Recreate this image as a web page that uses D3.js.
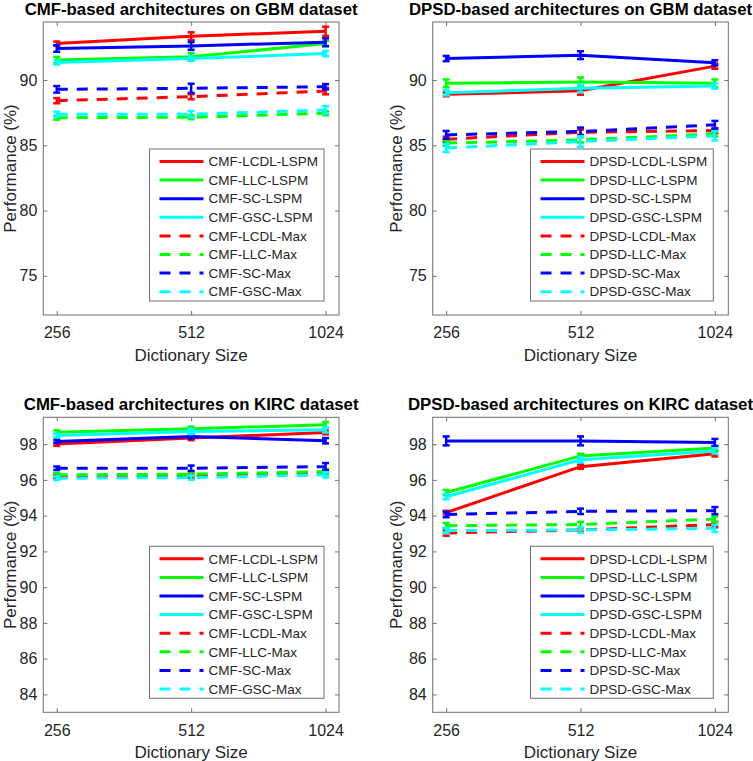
<!DOCTYPE html>
<html>
<head>
<meta charset="utf-8">
<script src="https://cdn.jsdelivr.net/npm/d3@7"></script>
<style>
  html, body { margin: 0; padding: 0; background: #fff; }
  svg { display: block; }
  text { font-family: "Liberation Sans", Arial, Helvetica, sans-serif; fill: #262626; }
</style>
</head>
<body>
<svg id="chart" width="753" height="761"></svg>
<script>
// ---------- data ----------
const dictSizes = ["256", "512", "1024"];
const methodSuffixes = ["LCDL-LSPM", "LLC-LSPM", "SC-LSPM", "GSC-LSPM", "LCDL-Max", "LLC-Max", "SC-Max", "GSC-Max"];
const seriesColors = ["#ff0000", "#00ff00", "#0000ff", "#00ffff", "#ff0000", "#00ff00", "#0000ff", "#00ffff"];
const seriesDashed = [false, false, false, false, true, true, true, true];

const titles = [
  "CMF-based architectures on GBM dataset",
  "DPSD-based architectures on GBM dataset",
  "CMF-based architectures on KIRC dataset",
  "DPSD-based architectures on KIRC dataset"
];
const prefixes = ["CMF", "DPSD", "CMF", "DPSD"];

const gbmTicks = [75, 80, 85, 90];
const kircTicks = [84, 86, 88, 90, 92, 94, 96, 98];
const gbmDomain = [72, 94.45];
const kircDomain = [83, 99.5];

const cmfGbm = [
  [92.80, 93.36, 93.74],
  [91.53, 91.78, 92.80],
  [92.42, 92.62, 92.90],
  [91.35, 91.65, 92.03],
  [88.42, 88.73, 89.16],
  [87.12, 87.15, 87.46],
  [89.29, 89.37, 89.49],
  [87.38, 87.38, 87.71]
];
const cmfGbmErr = [
  [0.15, 0.30, 0.35],
  [0.25, 0.30, 0.20],
  [0.25, 0.30, 0.30],
  [0.15, 0.15, 0.20],
  [0.20, 0.20, 0.25],
  [0.15, 0.15, 0.15],
  [0.25, 0.35, 0.20],
  [0.20, 0.25, 0.30]
];
const dpsdGbm = [
  [88.91, 89.18, 91.07],
  [89.75, 89.85, 89.75],
  [91.65, 91.91, 91.32],
  [89.03, 89.37, 89.54],
  [85.47, 86.00, 86.13],
  [85.17, 85.42, 85.88],
  [85.80, 86.06, 86.57],
  [84.79, 85.29, 85.73]
];
const dpsdGbmErr = [
  [0.15, 0.30, 0.20],
  [0.30, 0.35, 0.30],
  [0.20, 0.30, 0.20],
  [0.20, 0.30, 0.20],
  [0.20, 0.20, 0.20],
  [0.20, 0.20, 0.20],
  [0.30, 0.30, 0.30],
  [0.30, 0.40, 0.35]
];
const cmfKirc = [
  [98.00, 98.34, 98.65],
  [98.67, 98.86, 99.08],
  [98.15, 98.43, 98.19],
  [98.48, 98.71, 98.80],
  [96.18, 96.22, 96.43],
  [96.28, 96.32, 96.46],
  [96.65, 96.65, 96.74],
  [96.09, 96.13, 96.28]
];
const cmfKircErr = [
  [0.10, 0.12, 0.10],
  [0.10, 0.12, 0.15],
  [0.10, 0.12, 0.15],
  [0.10, 0.15, 0.15],
  [0.10, 0.10, 0.10],
  [0.10, 0.10, 0.15],
  [0.10, 0.15, 0.20],
  [0.10, 0.12, 0.15]
];
const dpsdKirc = [
  [94.17, 96.74, 97.46],
  [95.29, 97.34, 97.78],
  [98.18, 98.18, 98.09],
  [95.06, 97.12, 97.62],
  [93.03, 93.20, 93.50],
  [93.44, 93.50, 93.81],
  [94.06, 94.24, 94.28],
  [93.16, 93.20, 93.29]
];
const dpsdKircErr = [
  [0.10, 0.12, 0.15],
  [0.15, 0.12, 0.12],
  [0.25, 0.25, 0.20],
  [0.15, 0.15, 0.15],
  [0.15, 0.10, 0.15],
  [0.15, 0.15, 0.15],
  [0.15, 0.15, 0.20],
  [0.15, 0.15, 0.20]
];

// ---------- layout ----------
const panels = [
  { title: titles[0], prefix: prefixes[0], values: cmfGbm,  errs: cmfGbmErr,  ticks: gbmTicks,  domain: gbmDomain,  left: 43.3,  right: 339,   top: 22,    bottom: 315,   ylabX: 15.5 },
  { title: titles[1], prefix: prefixes[1], values: dpsdGbm, errs: dpsdGbmErr, ticks: gbmTicks,  domain: gbmDomain,  left: 432.7, right: 728.3, top: 22,    bottom: 315,   ylabX: 402 },
  { title: titles[2], prefix: prefixes[2], values: cmfKirc, errs: cmfKircErr, ticks: kircTicks, domain: kircDomain, left: 43.3,  right: 339,   top: 417.3, bottom: 712.3, ylabX: 15.5 },
  { title: titles[3], prefix: prefixes[3], values: dpsdKirc,errs: dpsdKircErr,ticks: kircTicks, domain: kircDomain, left: 432.7, right: 728.3, top: 417.3, bottom: 712.3, ylabX: 402 }
];

const svg = d3.select("#chart");
const axisColor = "#6e6e6e";
const tickLen = 4;
const tickFont = "16px";
const labelFont = "17px";
const legendFont = "13.5px";
const titleFont = "16.8px";

panels.forEach(p => {
  const g = svg.append("g");
  const x = d3.scaleLinear().domain([-0.1, 2.1]).range([p.left, p.right]);
  const y = d3.scaleLinear().domain(p.domain).range([p.bottom, p.top]);
  const w = p.right - p.left, h = p.bottom - p.top;

  const xAxis = d3.axisBottom(x).tickValues([0, 1, 2]).tickFormat(i => dictSizes[i]).tickSizeInner(-tickLen).tickSizeOuter(0).tickPadding(12);
  const gx = g.append("g").attr("transform", `translate(0,${p.bottom})`).call(xAxis);
  const xTop = d3.axisTop(x).tickValues([0, 1, 2]).tickFormat("").tickSizeInner(-tickLen).tickSizeOuter(0);
  const gxt = g.append("g").attr("transform", `translate(0,${p.top})`).call(xTop);
  const yAxis = d3.axisLeft(y).tickValues(p.ticks).tickFormat(d3.format("d")).tickSizeInner(-tickLen).tickSizeOuter(0).tickPadding(6);
  const gy = g.append("g").attr("transform", `translate(${p.left},0)`).call(yAxis);
  const yRight = d3.axisRight(y).tickValues(p.ticks).tickFormat("").tickSizeInner(-tickLen).tickSizeOuter(0);
  const gyr = g.append("g").attr("transform", `translate(${p.right},0)`).call(yRight);
  [gx, gxt, gy, gyr].forEach(a => {
    a.select(".domain").remove();
    a.selectAll("line").attr("stroke", axisColor);
    a.selectAll("text").style("font-size", tickFont).attr("fill", "#262626")
      .style("font-family", '"Liberation Sans", Arial, Helvetica, sans-serif');
  });
  gx.selectAll("text").attr("dy", "0.71em");

  g.append("rect").attr("x", p.left).attr("y", p.top).attr("width", w).attr("height", h)
    .attr("fill", "none").attr("stroke", axisColor).attr("stroke-width", 1);

  g.append("text").attr("x", (p.left + p.right) / 2).attr("y", p.top - 7.5)
    .attr("text-anchor", "middle").style("font-size", titleFont).style("font-weight", "bold")
    .attr("fill", "#000").style("fill", "#000").text(p.title);

  g.append("text").attr("x", (p.left + p.right) / 2).attr("y", p.bottom + 46)
    .attr("text-anchor", "middle").style("font-size", labelFont).text("Dictionary Size");
  g.append("text")
    .attr("transform", `translate(${p.ylabX},${(p.top + p.bottom) / 2}) rotate(-90)`)
    .attr("text-anchor", "middle").style("font-size", labelFont).text("Performance (%)");

  const line = d3.line().x((d, i) => x(i)).y(d => y(d));
  const plot = g.append("g");
  p.values.forEach((vals, si) => {
    const sg = plot.append("g");
    sg.append("path").datum(vals).attr("d", line)
      .attr("fill", "none").attr("stroke", seriesColors[si]).attr("stroke-width", 3)
      .attr("stroke-dasharray", seriesDashed[si] ? "11,9" : null);
    vals.forEach((v, i) => {
      const e = p.errs[si][i];
      const cx = x(i), y1 = y(v - e), y2 = y(v + e);
      sg.append("line").attr("x1", cx).attr("x2", cx).attr("y1", y1).attr("y2", y2)
        .attr("stroke", seriesColors[si]).attr("stroke-width", 2.5);
      [y1, y2].forEach(yy => sg.append("line").attr("x1", cx - 3.5).attr("x2", cx + 3.5)
        .attr("y1", yy).attr("y2", yy).attr("stroke", seriesColors[si]).attr("stroke-width", 2.5));
    });
  });

  const labels = methodSuffixes.map(s => p.prefix + "-" + s);
  const lg = g.append("g");
  const tmp = lg.append("text").style("font-size", legendFont);
  let maxW = 0;
  labels.forEach(l => { tmp.text(l); maxW = Math.max(maxW, tmp.node().getComputedTextLength()); });
  tmp.remove();
  const boxW = 59 + maxW + 6;
  const boxH = 152;
  const bx = p.right - 15 - boxW, by = p.bottom - 14 - boxH;
  lg.append("rect").attr("x", bx).attr("y", by).attr("width", boxW).attr("height", boxH)
    .attr("fill", "#fff").attr("stroke", axisColor).attr("stroke-width", 1);
  labels.forEach((l, i) => {
    const ry = by + 12.5 + i * 18.6;
    lg.append("line").attr("x1", bx + 10).attr("x2", bx + 54).attr("y1", ry).attr("y2", ry)
      .attr("stroke", seriesColors[i]).attr("stroke-width", 3)
      .attr("stroke-dasharray", seriesDashed[i] ? "11,9" : null);
    lg.append("text").attr("x", bx + 59).attr("y", ry).attr("dy", "0.35em")
      .style("font-size", legendFont).text(l);
  });
});
</script>
</body>
</html>
